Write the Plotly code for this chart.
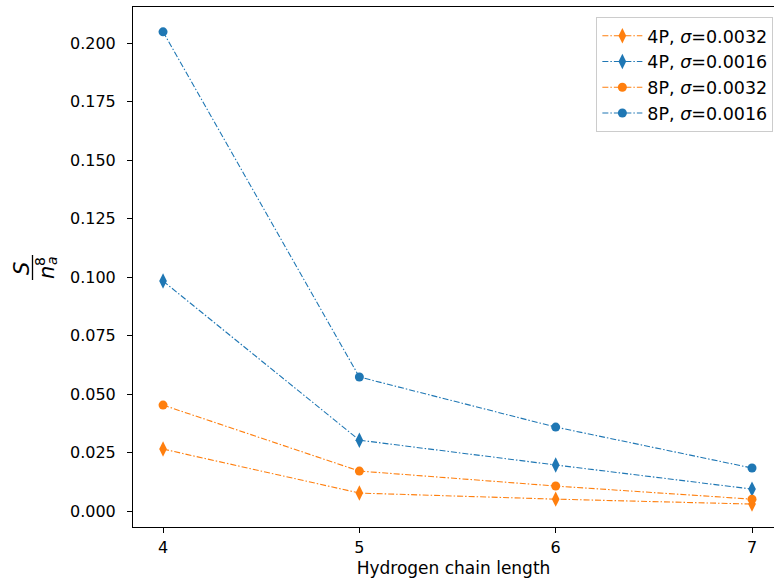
import plotly.graph_objects as go

chain_length = [4, 5, 6, 7]
s_4p_0032 = [0.0265, 0.0077, 0.0051, 0.0030]
s_4p_0016 = [0.0983, 0.0303, 0.0197, 0.0094]
s_8p_0032 = [0.0453, 0.0171, 0.0107, 0.0051]
s_8p_0016 = [0.2048, 0.0573, 0.0359, 0.0184]
y_ticks = [0.0, 0.025, 0.05, 0.075, 0.1, 0.125, 0.15, 0.175, 0.2]
y_tick_labels = ["0.000", "0.025", "0.050", "0.075", "0.100", "0.125", "0.150", "0.175", "0.200"]

BLUE = "#1f77b4"
ORANGE = "#ff7f0e"
DASH = "6px,2px,1.5px,2px"

series = [
    ("4P, <i>σ</i>=0.0032", s_4p_0032, ORANGE, "diamond-tall", 11),
    ("4P, <i>σ</i>=0.0016", s_4p_0016, BLUE, "diamond-tall", 11),
    ("8P, <i>σ</i>=0.0032", s_8p_0032, ORANGE, "circle", 9),
    ("8P, <i>σ</i>=0.0016", s_8p_0016, BLUE, "circle", 9),
]

fig = go.Figure()
for name, ys, color, sym, size in series:
    fig.add_trace(go.Scatter(
        x=chain_length, y=ys, name=name, mode="lines+markers",
        line=dict(color=color, width=1.1, dash=DASH),
        marker=dict(color=color, symbol=sym, size=size, line=dict(width=0)),
    ))

font = dict(family="DejaVu Sans", size=16, color="black")
fig.update_layout(
    width=774, height=581,
    margin=dict(l=133, r=0, t=7, b=54),
    plot_bgcolor="white", paper_bgcolor="white",
    font=font,
    showlegend=True,
    legend=dict(
        x=0.999, y=0.981, xanchor="right", yanchor="top",
        bordercolor="#cccccc", borderwidth=1, bgcolor="rgba(255,255,255,0.8)",
        font=dict(family="DejaVu Sans", size=17.5, color="black"),
        tracegroupgap=0, itemwidth=40,
    ),
    xaxis=dict(
        range=[3.847, 7.112], tickvals=chain_length, ticktext=[str(v) for v in chain_length],
        showgrid=False, zeroline=False, showline=True, linecolor="black", linewidth=1,
        mirror=True, ticks="outside", ticklen=5, tickcolor="black", ticklabelstandoff=1,
        tickfont=dict(family="DejaVu Sans", size=16),
        title=dict(text="Hydrogen chain length", font=dict(family="DejaVu Sans", size=17), standoff=5),
    ),
    yaxis=dict(
        range=[-0.0068, 0.2154], tickvals=y_ticks, ticktext=y_tick_labels,
        showgrid=False, zeroline=False, showline=True, linecolor="black", linewidth=1,
        ticks="outside", ticklen=5, tickcolor="black", ticklabelstandoff=8,
        tickfont=dict(family="DejaVu Sans", size=16),
    ),
)

def ann(text, x, y, size=21):
    fig.add_annotation(text=text, x=x, y=y, xref="paper", yref="paper",
                       showarrow=False, textangle=-90,
                       font=dict(family="DejaVu Sans", size=size, color="black"),
                       xanchor="center", yanchor="middle")

def px_x(px):
    return (px - 133) / 641
def px_y(py):
    return (527 - py) / 520

ann("<i>S</i>", px_x(22), px_y(268))
ann("<i>n</i>", px_x(47), px_y(273))
ann("8", px_x(40), px_y(262), size=14)
ann("<i>a</i>", px_x(52), px_y(261), size=14)
fig.add_shape(type="line", xref="paper", yref="paper",
              x0=px_x(32.5), x1=px_x(32.5), y0=px_y(255), y1=px_y(280),
              line=dict(color="black", width=1.3))

fig.write_html("out.html")
